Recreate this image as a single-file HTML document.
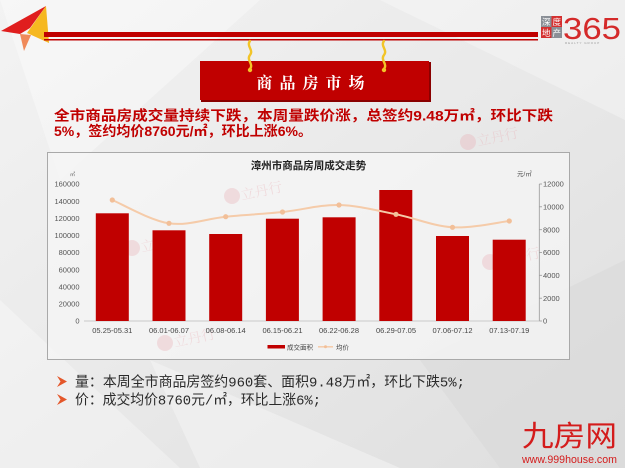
<!DOCTYPE html>
<html><head><meta charset="utf-8"><style>
html,body{margin:0;padding:0;width:625px;height:468px;overflow:hidden;background:#e9e9e9}
svg{display:block}
</style></head><body>
<svg width="625" height="468" viewBox="0 0 625 468" xmlns="http://www.w3.org/2000/svg">
<defs>
<linearGradient id="bg" x1="0" y1="0" x2="1" y2="1">
<stop offset="0" stop-color="#f3f3f3"/><stop offset="0.5" stop-color="#e9e9e9"/><stop offset="1" stop-color="#dedede"/>
</linearGradient>
</defs>
<rect width="625" height="468" fill="url(#bg)"/>
<polygon points="0,0 260,0 60,180" fill="#ffffff" opacity="0.35"/>
<polygon points="380,0 625,0 625,120" fill="#ffffff" opacity="0.3"/>
<polygon points="0,300 180,468 0,468" fill="#ffffff" opacity="0.3"/>
<polygon points="420,360 625,260 625,468 500,468" fill="#d8d8d8" opacity="0.5"/>
<polygon points="150,360 400,468 200,468" fill="#f6f6f6" opacity="0.5"/>

<!-- header plane -->
<polygon points="1,31 46,6 30,28 20,34" fill="#e01e1e"/>
<polygon points="46,6 49,43 27,33" fill="#f6b820"/>
<polygon points="20,34 24,51 31,35" fill="#f08a5a"/>
<!-- red lines -->
<rect x="44" y="32" width="494" height="5" fill="#c00000"/>
<rect x="44" y="39" width="494" height="1.5" fill="#c00000"/>
<!-- logo -->
<rect x="541" y="16" width="10.5" height="11" fill="#8a8f96"/>
<rect x="551.5" y="16" width="10.5" height="11" fill="#d43030"/>
<rect x="541" y="27" width="10.5" height="11" fill="#d43030"/>
<rect x="551.5" y="27" width="10.5" height="11" fill="#8a8f96"/>
<text x="546.2" y="25" font-size="8.5" fill="#fff" text-anchor="middle" font-family="Liberation Sans, Noto Sans CJK SC, sans-serif">深</text>
<text x="556.7" y="25" font-size="8.5" fill="#fff" text-anchor="middle" font-family="Liberation Sans, Noto Sans CJK SC, sans-serif">度</text>
<text x="546.2" y="36" font-size="8.5" fill="#fff" text-anchor="middle" font-family="Liberation Sans, Noto Sans CJK SC, sans-serif">地</text>
<text x="556.7" y="36" font-size="8.5" fill="#fff" text-anchor="middle" font-family="Liberation Sans, Noto Sans CJK SC, sans-serif">产</text>
<text x="563" y="39" font-size="31" fill="#d42a2a" font-family="Liberation Sans, sans-serif" textLength="58" lengthAdjust="spacingAndGlyphs">365</text>
<text x="565" y="44" font-size="3" fill="#999" font-family="Liberation Sans, sans-serif" letter-spacing="1">REALTY  GROUP</text>

<!-- banner -->
<rect x="201" y="62" width="230" height="40" fill="#8a0000"/>
<rect x="200" y="61" width="229" height="39" fill="#c00000"/>
<text x="314" y="88.5" font-size="16" font-weight="bold" fill="#fff" text-anchor="middle" font-family="Noto Serif CJK SC, serif" letter-spacing="7">商品房市场</text>
<!-- hooks -->
<g fill="none" stroke="#f2c428" stroke-width="2.4" stroke-linecap="round">
<path d="M250,41 C246,46 254,50 250,55 C246,60 254,64 250,69"/>
<path d="M384,41 C380,46 388,50 384,55 C380,60 388,64 384,69"/>
</g>
<circle cx="250" cy="70" r="2.2" fill="#f2c428"/>
<circle cx="384" cy="70" r="2.2" fill="#f2c428"/>

<!-- headline -->
<text x="54" y="120.5" font-size="14" font-weight="bold" fill="#c00000" font-family="Liberation Sans, Noto Sans CJK SC, sans-serif" textLength="499" lengthAdjust="spacingAndGlyphs">全市商品房成交量持续下跌，本周量跌价涨，总签约9.48万㎡，环比下跌</text>
<text x="54" y="136" font-size="14" font-weight="bold" fill="#c00000" font-family="Liberation Sans, Noto Sans CJK SC, sans-serif" textLength="258" lengthAdjust="spacingAndGlyphs">5%，签约均价8760元/㎡，环比上涨6%。</text>

<!-- chart box -->
<rect x="47.5" y="152.5" width="522" height="207" fill="#f6f6f6" fill-opacity="0.75" stroke="#a9a9a9" stroke-width="1"/>

<!-- watermarks -->
<g fill="#e8a0a8" opacity="0.28" font-family="Noto Serif CJK SC, serif">
<circle cx="468" cy="142" r="8"/><text x="478" y="146" font-size="14" transform="rotate(-12 478 146)">立丹行</text>
<circle cx="232" cy="196" r="8"/><text x="242" y="200" font-size="14" transform="rotate(-12 242 200)">立丹行</text>
<circle cx="132" cy="248" r="8"/><text x="142" y="252" font-size="14" transform="rotate(-12 142 252)">立丹行</text>
<circle cx="165" cy="343" r="8"/><text x="175" y="347" font-size="14" transform="rotate(-12 175 347)">立丹行</text>
<circle cx="490" cy="262" r="8"/><text x="500" y="266" font-size="14" transform="rotate(-12 500 266)">立丹行</text>
</g>

<text x="308.5" y="169" font-size="10.5" font-weight="bold" fill="#222" text-anchor="middle" font-family="Liberation Sans, Noto Sans CJK SC, sans-serif">漳州市商品房周成交走势</text>
<text x="70" y="176" font-size="5" fill="#555" font-family="Liberation Sans, Noto Sans CJK SC, sans-serif">㎡</text>
<text x="517" y="176" font-size="6.5" fill="#555" font-family="Liberation Sans, Noto Sans CJK SC, sans-serif">元/㎡</text>

<!-- left ticks -->
<g font-size="7.5" fill="#555" text-anchor="end" font-family="Liberation Sans, sans-serif">
<text x="79.5" y="186.7">160000</text>
<text x="79.5" y="203.8">140000</text>
<text x="79.5" y="221">120000</text>
<text x="79.5" y="238.1">100000</text>
<text x="79.5" y="255.2">80000</text>
<text x="79.5" y="272.3">60000</text>
<text x="79.5" y="289.5">40000</text>
<text x="79.5" y="306.6">20000</text>
<text x="79.5" y="323.7">0</text>
</g>
<!-- right axis -->
<line x1="539.3" y1="184" x2="539.3" y2="321" stroke="#999" stroke-width="0.8"/>
<g stroke="#999" stroke-width="0.8">
<line x1="539.3" y1="184" x2="542" y2="184"/>
<line x1="539.3" y1="206.8" x2="542" y2="206.8"/>
<line x1="539.3" y1="229.7" x2="542" y2="229.7"/>
<line x1="539.3" y1="252.5" x2="542" y2="252.5"/>
<line x1="539.3" y1="275.3" x2="542" y2="275.3"/>
<line x1="539.3" y1="298.2" x2="542" y2="298.2"/>
<line x1="539.3" y1="321" x2="542" y2="321"/>
</g>
<g font-size="7.5" fill="#555" font-family="Liberation Sans, sans-serif">
<text x="543" y="186.7">12000</text>
<text x="543" y="209.5">10000</text>
<text x="543" y="232.4">8000</text>
<text x="543" y="255.2">6000</text>
<text x="543" y="278">4000</text>
<text x="543" y="300.9">2000</text>
<text x="543" y="323.7">0</text>
</g>
<line x1="84" y1="321" x2="539.3" y2="321" stroke="#bdbdbd" stroke-width="0.8"/>

<!-- bars -->
<g fill="#c00000">
<rect x="95.8" y="213.3" width="33" height="107.7"/>
<rect x="152.5" y="230.3" width="33" height="90.7"/>
<rect x="209.2" y="234" width="33" height="87"/>
<rect x="265.9" y="218.7" width="33" height="102.3"/>
<rect x="322.6" y="217.3" width="33" height="103.7"/>
<rect x="379.3" y="190" width="33" height="131"/>
<rect x="436" y="236" width="33" height="85"/>
<rect x="492.7" y="239.7" width="33" height="81.3"/>
</g>

<!-- line -->
<path d="M112.3,200 C121.75,203.9 150.1,220.5 169,223.3 C187.9,226.1 206.8,218.6 225.7,216.7 C244.6,214.8 263.6,214 282.5,212 C301.4,210.05 320.1,204.6 339,205 C357.9,205.4 377.1,210.6 396,214.3 C414.9,218 433.6,226.2 452.5,227.3 C471.4,228.4 499.8,222.05 509.3,221" fill="none" stroke="#f5cba9" stroke-width="2"/>
<g fill="#f2bf98">
<circle cx="112.3" cy="200" r="2.6"/>
<circle cx="169" cy="223.3" r="2.6"/>
<circle cx="225.7" cy="216.7" r="2.6"/>
<circle cx="282.5" cy="212" r="2.6"/>
<circle cx="339" cy="205" r="2.6"/>
<circle cx="396" cy="214.3" r="2.6"/>
<circle cx="452.5" cy="227.3" r="2.6"/>
<circle cx="509.3" cy="221" r="2.6"/>
</g>

<!-- x labels -->
<g font-size="7.5" fill="#444" text-anchor="middle" font-family="Liberation Sans, sans-serif">
<text x="112.3" y="333">05.25-05.31</text>
<text x="169" y="333">06.01-06.07</text>
<text x="225.7" y="333">06.08-06.14</text>
<text x="282.5" y="333">06.15-06.21</text>
<text x="339" y="333">06.22-06.28</text>
<text x="396" y="333">06.29-07.05</text>
<text x="452.5" y="333">07.06-07.12</text>
<text x="509.3" y="333">07.13-07.19</text>
</g>

<!-- legend -->
<rect x="267.5" y="345" width="17.5" height="3.5" fill="#c00000"/>
<text x="287" y="349.3" font-size="6.5" fill="#444" font-family="Liberation Sans, Noto Sans CJK SC, sans-serif">成交面积</text>
<line x1="318" y1="346.8" x2="333" y2="346.8" stroke="#f5cba9" stroke-width="1.5"/>
<circle cx="325.5" cy="346.8" r="1.5" fill="#f2bf98"/>
<text x="336" y="349.3" font-size="6.5" fill="#444" font-family="Liberation Sans, Noto Sans CJK SC, sans-serif">均价</text>

<!-- bullets -->
<polygon points="57,376 67,381.5 57,387 60.5,381.5" fill="#e4572a"/>
<polygon points="57,394 67,399.5 57,405 60.5,399.5" fill="#e4572a"/>
<text x="75" y="386.5" font-size="14" fill="#2a2a2a" font-family="Liberation Mono, Noto Sans CJK SC, monospace" textLength="390" lengthAdjust="spacingAndGlyphs">量：本周全市商品房签约960套、面积9.48万㎡，环比下跌5%;</text>
<text x="75" y="404.5" font-size="14" fill="#2a2a2a" font-family="Liberation Mono, Noto Sans CJK SC, monospace" textLength="246" lengthAdjust="spacingAndGlyphs">价：成交均价8760元/㎡，环比上涨6%;</text>

<!-- bottom right logo -->
<text x="522" y="446" font-size="29" fill="#d41c1c" font-family="Liberation Sans, Noto Sans CJK SC, sans-serif" textLength="95" lengthAdjust="spacingAndGlyphs">九房网</text>
<text x="522" y="463" font-size="11" fill="#d41c1c" font-family="Liberation Sans, sans-serif" textLength="95" lengthAdjust="spacingAndGlyphs">www.999house.com</text>
</svg>
</body></html>
